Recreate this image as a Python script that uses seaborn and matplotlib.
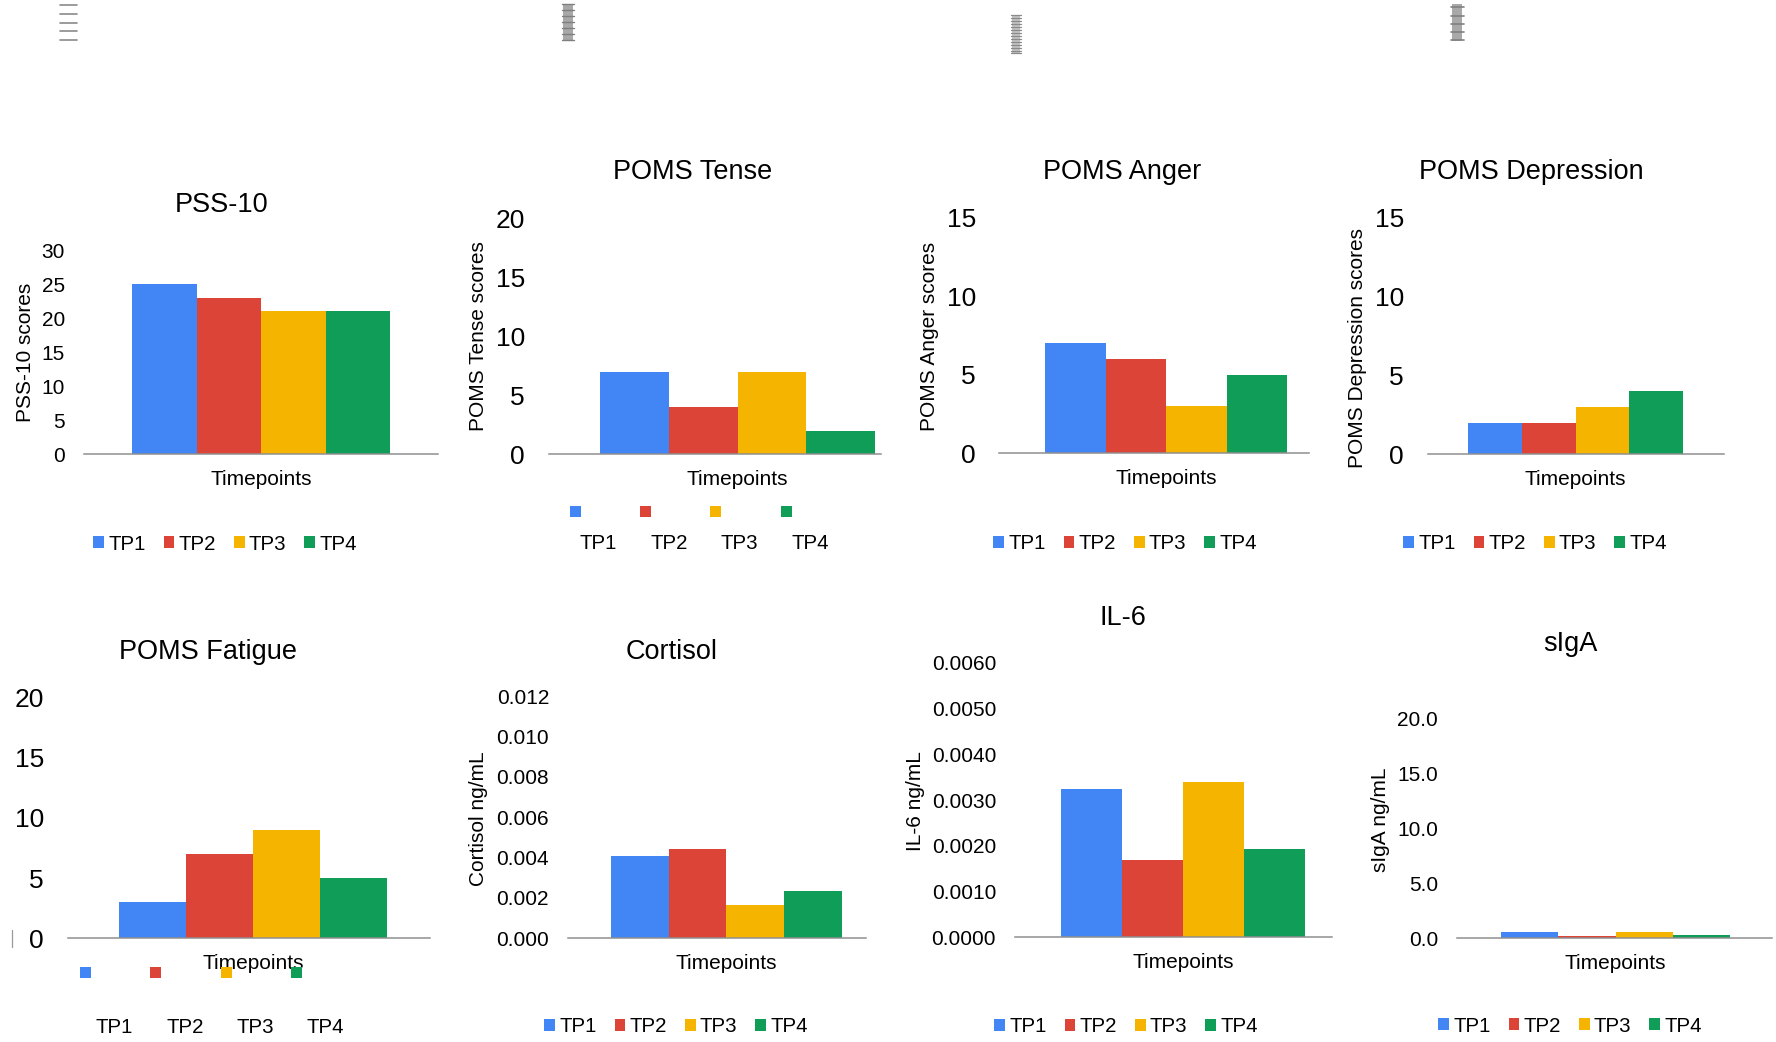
import matplotlib
matplotlib.use("Agg")
import matplotlib.pyplot as plt
import seaborn as sns
import pandas as pd
from matplotlib.patches import Rectangle, Patch
from matplotlib.lines import Line2D
from matplotlib.ticker import FormatStrFormatter

# ---------------- data ----------------
timepoints = ["TP1", "TP2", "TP3", "TP4"]
category = "Timepoints"
colors = ["#4285F4", "#DB4437", "#F4B400", "#0F9D58"]

pss10 = [25, 23, 21, 21]
poms_tense = [7, 4, 7, 2]
poms_anger = [7, 6, 3, 5]
poms_depression = [2, 2, 3, 4]
poms_fatigue = [3, 7, 9, 5]
cortisol = [0.0041, 0.0044, 0.00165, 0.00235]
il6 = [0.00324, 0.00169, 0.00339, 0.00193]
siga = [0.55, 0.2, 0.55, 0.3]

titles = ["PSS-10", "POMS Tense", "POMS Anger", "POMS Depression",
          "POMS Fatigue", "Cortisol", "IL-6", "sIgA"]
ylabels = ["PSS-10 scores", "POMS Tense scores", "POMS Anger scores",
           "POMS Depression scores", "", "Cortisol ng/mL", "IL-6 ng/mL", "sIgA ng/mL"]
series = [pss10, poms_tense, poms_anger, poms_depression,
          poms_fatigue, cortisol, il6, siga]
ymax = [30, 20, 15, 15, 20, 0.012, 0.006, 20]
ystep = [5, 5, 5, 5, 5, 0.002, 0.001, 5]
yfmt = ["%d", "%d", "%d", "%d", "%d", "%.3f", "%.4f", "%.1f"]

# ---------------- layout (pixels in a 1776x1042 canvas) ----------------
W, H = 1776, 1042
def fx(x): return x / W
def fy(y): return 1 - y / H

layout = [
    dict(ax=(84, 437.7, 250, 454.3), bars=(132.3, 390), tfs=15, tpad=19,
         title=(221.7, 212.3), ylab=(30.7, 352.5), leg=("row", 225, 544)),
    dict(ax=(549, 881, 218.3, 454.3), bars=(600, 875), tfs=19, tpad=24,
         title=(693, 179.3), ylab=(484.3, 336.3),
         leg=("split", [570, 640, 710, 781], 511.3, [598, 669, 739, 810], 549.3)),
    dict(ax=(999, 1309, 217.7, 453.3), bars=(1045, 1287), tfs=19, tpad=23,
         title=(1122, 179.3), ylab=(935, 336), leg=("row", 1125, 543.7)),
    dict(ax=(1428, 1724, 217.7, 454.3), bars=(1468, 1683), tfs=19, tpad=24,
         title=(1531, 179.3), ylab=(1363.3, 348), leg=("row", 1535, 543.7)),
    dict(ax=(68, 430, 697.3, 938.3), bars=(119, 386.7), tfs=19, tpad=24,
         title=(208, 659.3), ylab=None,
         leg=("split", [80, 150, 221, 291], 972.2, [114, 184.7, 255.3, 325.3], 1033.3)),
    dict(ax=(568, 865.7, 696, 938.3), bars=(611, 841.7), tfs=15, tpad=19,
         title=(672, 659.3), ylab=(484.3, 818.8), leg=("row", 676, 1026.7)),
    dict(ax=(1015, 1331.7, 662.7, 937.3), bars=(1061, 1305), tfs=15, tpad=19,
         title=(1122.7, 625), ylab=(920.7, 800.8), leg=("row", 1126, 1026.7)),
    dict(ax=(1457, 1772, 719, 938.3), bars=(1501, 1730), tfs=15, tpad=19,
         title=(1570.7, 650.7), ylab=(1386, 819.5), leg=("row", 1570, 1026)),
]

sns.set_theme(style="white")
plt.rcParams["font.family"] = ["Liberation Sans", "DejaVu Sans"]
TXT = "#000000"
AXC = "#8f8f8f"

fig = plt.figure(figsize=(W / 100, H / 100), dpi=100, facecolor="white")

for i, lay in enumerate(layout):
    xa0, xa1, yt, yb = lay["ax"]
    ax = fig.add_axes([fx(xa0), fy(yb), (xa1 - xa0) / W, (yb - yt) / H])
    df = pd.DataFrame({"category": [category] * len(timepoints),
                       "timepoint": timepoints,
                       "value": series[i]})
    sns.barplot(data=df, x="category", y="value", hue="timepoint",
                hue_order=timepoints, palette=colors, saturation=1,
                width=0.8, errorbar=None, legend=False, linewidth=0, ax=ax)
    xb0, xb1 = lay["bars"]
    sc = 0.8 / (xb1 - xb0)
    ax.set_xlim(-0.4 - (xb0 - xa0) * sc, 0.4 + (xa1 - xb1) * sc)
    ax.set_ylim(0, ymax[i])
    n = int(round(ymax[i] / ystep[i]))
    ax.set_yticks([k * ystep[i] for k in range(n + 1)])
    ax.yaxis.set_major_formatter(FormatStrFormatter(yfmt[i]))
    ax.set_xlabel("")
    ax.set_ylabel("")
    for s in ["top", "right", "left"]:
        ax.spines[s].set_visible(False)
    ax.spines["bottom"].set_color(AXC)
    ax.spines["bottom"].set_linewidth(1.1)
    ax.grid(False)
    ax.tick_params(axis="y", length=0, pad=lay["tpad"] * 0.72,
                   labelsize=lay["tfs"], labelcolor=TXT)
    ax.tick_params(axis="x", length=0, pad=11.5, labelsize=15, labelcolor=TXT)
    ax.set_facecolor("white")

    tx, ty = lay["title"]
    fig.text(fx(tx), fy(ty), titles[i], ha="center", va="baseline",
             fontsize=19.5, color=TXT)
    if lay["ylab"] is not None and ylabels[i]:
        lx, ly = lay["ylab"]
        fig.text(fx(lx), fy(ly), ylabels[i], rotation=90, rotation_mode="anchor",
                 ha="center", va="baseline", fontsize=15, color=TXT)

    leg = lay["leg"]
    if leg[0] == "row":
        handles = [Patch(facecolor=c, edgecolor="none") for c in colors]
        fig.legend(handles, timepoints, loc="center",
                   bbox_to_anchor=(fx(leg[1]), fy(leg[2])), ncol=4, frameon=False,
                   fontsize=14.7, handlelength=0.525, handleheight=0.525,
                   handletextpad=0.21, columnspacing=0.88, borderpad=0,
                   borderaxespad=0, labelcolor=TXT)
    else:
        _, sqx, sqy, lbx, lby = leg
        s = 11
        for c, x0 in zip(colors, sqx):
            fig.add_artist(Rectangle((fx(x0), fy(sqy + s / 2)), s / W, s / H,
                                     transform=fig.transFigure, facecolor=c,
                                     edgecolor="none"))
        for t, cx in zip(timepoints, lbx):
            fig.text(fx(cx), fy(lby), t, ha="center", va="baseline",
                     fontsize=14.7, color=TXT)

# ---------------- small stray marks ----------------
def hline(x0, x1, y, lw=1.0, color="#8a8a8a"):
    fig.add_artist(Line2D([fx(x0), fx(x1)], [fy(y), fy(y)],
                          transform=fig.transFigure, lw=lw, color=color))

def vrect(x0, x1, y0, y1, color):
    fig.add_artist(Rectangle((fx(x0), fy(y1)), (x1 - x0) / W, (y1 - y0) / H,
                             transform=fig.transFigure, facecolor=color,
                             edgecolor="none"))

for y in [5, 13.7, 22.7, 31.3, 40]:
    hline(60, 76.7, y, lw=1.2)

vrect(563, 573, 4, 41, "#a8a8a8")
for y in [4, 10, 16, 22, 28, 34, 40]:
    hline(562, 574, y, lw=1.0, color="#7f7f7f")

vrect(1012, 1020, 15, 53, "#c4c4c4")
for y in [15, 18, 21, 24, 27, 30, 33, 36, 39, 42, 45, 48, 51, 53]:
    hline(1011, 1021, y, lw=0.9, color="#8a8a8a")

vrect(1452, 1462, 4, 41, "#a8a8a8")
for y in [7.3, 15.7, 23.7, 32, 40]:
    hline(1451, 1464, y, lw=1.2, color="#808080")

fig.add_artist(Line2D([fx(12), fx(12)], [fy(930), fy(947)],
                      transform=fig.transFigure, lw=0.9, color="#9a9a9a"))

fig.savefig("out.png", dpi=100, facecolor="white")
